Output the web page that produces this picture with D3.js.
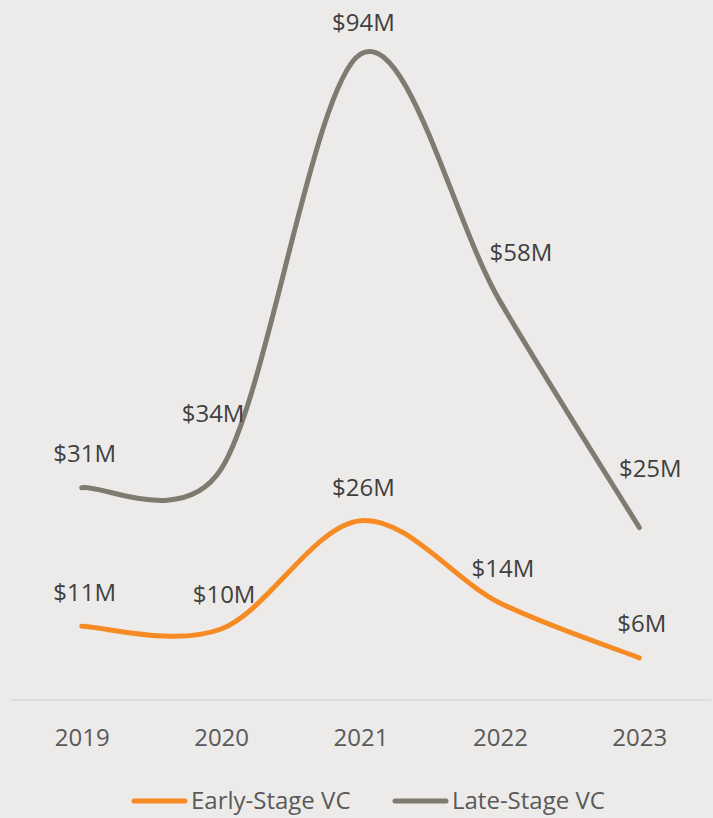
<!DOCTYPE html>
<html>
<head>
<meta charset="utf-8">
<script src="https://cdn.jsdelivr.net/npm/d3@7"></script>
<style>
  html, body { margin: 0; padding: 0; background: #EDEBE9; }
  svg { display: block; }
  text { font-family: "Open Sans", sans-serif; }
</style>
</head>
<body>
<svg id="chart" width="713" height="818"></svg>
<script>
// ---- data ----
const years = ["2019", "2020", "2021", "2022", "2023"];
const earlyStage = [10.6, 10.2, 26, 14, 6];
const lateStage = [30.8, 33.5, 94, 58, 25];
const earlyLabels = ["$11M", "$10M", "$26M", "$14M", "$6M"];
const lateLabels = ["$31M", "$34M", "$94M", "$58M", "$25M"];
const seriesNames = ["Early-Stage VC", "Late-Stage VC"];

// ---- layout / style (not data) ----
const colors = ["#F68B24", "#7F7B70"];
const lateNudge = [[3, -26], [-8, -47], [3, -23.5], [21, -40], [11, -51]];
const earlyNudge = [[3, -25], [3, -26], [3, -25], [3, -26], [2.5, -26]];

// Spreadsheet-style smoothed line: Catmull-Rom tangents (1/6), with control
// handles clamped to half of the segment length.
function SmoothCurve(context) { this._context = context; }
SmoothCurve.prototype = {
  areaStart() {}, areaEnd() {},
  lineStart() { this._pts = []; },
  point(px, py) { this._pts.push([+px, +py]); },
  lineEnd() {
    const p = this._pts, n = p.length, c = this._context;
    if (!n) return;
    c.moveTo(p[0][0], p[0][1]);
    if (n === 1) return;
    const tan = p.map((q, i) => {
      const a = p[Math.max(0, i - 1)], b = p[Math.min(n - 1, i + 1)];
      return [(b[0] - a[0]) / 6, (b[1] - a[1]) / 6];
    });
    const clamp = (t, maxLen) => {
      const l = Math.hypot(t[0], t[1]);
      if (l <= maxLen || l === 0) return t;
      return [t[0] * maxLen / l, t[1] * maxLen / l];
    };
    for (let i = 0; i < n - 1; i++) {
      const a = p[i], b = p[i + 1];
      const seg = Math.hypot(b[0] - a[0], b[1] - a[1]);
      const t1 = clamp(tan[i], seg * 0.5), t2 = clamp(tan[i + 1], seg * 0.5);
      c.bezierCurveTo(a[0] + t1[0], a[1] + t1[1], b[0] - t2[0], b[1] - t2[1], b[0], b[1]);
    }
  }
};
const curveSmooth = ctx => new SmoothCurve(ctx);

const svg = d3.select("#chart");
const x = d3.scalePoint().domain(years).range([12, 709]).padding(0.5);
const y = d3.scaleLinear().domain([0, 100]).range([699, 13]);

// axis baseline
const xAxis = d3.axisBottom(x).tickSize(0).tickPadding(0);
const gx = svg.append("g").attr("transform", "translate(0,700)").call(xAxis);
gx.select(".domain").attr("stroke", "#D9D9D9").attr("stroke-width", 1.5)
  .attr("d", "M11,0H711");
gx.selectAll(".tick text")
  .attr("y", 46).attr("dy", null)
  .attr("fill", "#595959")
  .style("font-size", "24px")
  .style("font-family", "'Open Sans', sans-serif");

const line = d3.line()
  .x((d, i) => x(years[i]))
  .y(d => y(d))
  .curve(curveSmooth);

const series = [
  { name: seriesNames[0], values: earlyStage, labels: earlyLabels, nudge: earlyNudge, color: colors[0] },
  { name: seriesNames[1], values: lateStage, labels: lateLabels, nudge: lateNudge, color: colors[1] }
];

series.forEach(s => {
  svg.append("path")
    .datum(s.values)
    .attr("d", line)
    .attr("fill", "none")
    .attr("stroke", s.color)
    .attr("stroke-width", 5)
    .attr("stroke-linecap", "round")
    .attr("stroke-linejoin", "round");

  svg.append("g").selectAll("text")
    .data(s.values)
    .join("text")
    .attr("x", (d, i) => x(years[i]) + s.nudge[i][0])
    .attr("y", (d, i) => y(d) + s.nudge[i][1])
    .attr("text-anchor", "middle")
    .attr("fill", "#404040")
    .style("font-size", "24px")
    .text((d, i) => s.labels[i]);
});

// legend
const legendItems = [
  { name: seriesNames[0], color: colors[0], x1: 134, x2: 185, tx: 191 },
  { name: seriesNames[1], color: colors[1], x1: 395, x2: 446, tx: 452 }
];
const lg = svg.append("g");
legendItems.forEach(it => {
  lg.append("line")
    .attr("x1", it.x1).attr("x2", it.x2)
    .attr("y1", 801).attr("y2", 801)
    .attr("stroke", it.color).attr("stroke-width", 5)
    .attr("stroke-linecap", "round");
  lg.append("text")
    .attr("x", it.tx).attr("y", 809)
    .attr("fill", "#595959")
    .style("font-size", "24px")
    .text(it.name);
});
</script>
</body>
</html>
